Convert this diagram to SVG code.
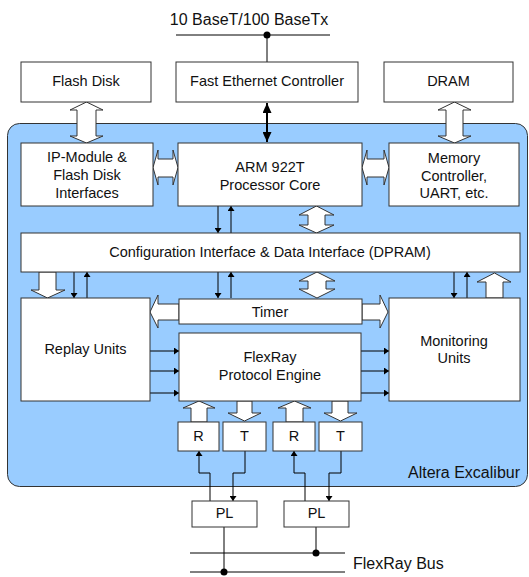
<svg xmlns="http://www.w3.org/2000/svg" width="529" height="577" viewBox="0 0 529 577">
<style>
.box{fill:#fff;stroke:#333;stroke-width:1}
.blk{fill:#fff;stroke:#333;stroke-width:1;stroke-linejoin:miter}
.ln{fill:none;stroke:#000;stroke-width:1}
.t{font-family:"Liberation Sans",Arial,sans-serif;font-size:14.5px;fill:#111;text-anchor:middle}
.tl{font-family:"Liberation Sans",Arial,sans-serif;font-size:16px;fill:#111}
</style>
<defs>
<marker id="ah" viewBox="0 0 10 10" refX="10" refY="5" markerWidth="5" markerHeight="7" markerUnits="userSpaceOnUse" orient="auto-start-reverse" preserveAspectRatio="none">
<path d="M0,0 L10,5 L0,10 z" fill="#000"/>
</marker>
<marker id="ahb" viewBox="0 0 10 10" refX="10" refY="5" markerWidth="10" markerHeight="9" markerUnits="userSpaceOnUse" orient="auto-start-reverse" preserveAspectRatio="none">
<path d="M0,0 L10,5 L0,10 z" fill="#000"/>
</marker>
</defs>
<rect id="excalibur" x="7.5" y="123.5" width="520" height="363" rx="12" ry="12" fill="#99ccff" stroke="#333" stroke-width="1"/>
<text class="tl" x="520" y="478" text-anchor="end">Altera Excalibur</text>

<g id="connectors">
<line class="ln" x1="176" y1="35" x2="330" y2="35"/>
<circle cx="267" cy="35" r="3.5" fill="#000"/>
<line class="ln" x1="267" y1="35" x2="267" y2="62"/>
<line x1="267" y1="103" x2="267" y2="142" stroke="#000" stroke-width="2" marker-start="url(#ahb)" marker-end="url(#ahb)"/>
<polygon class="blk" points="86.5,102 103,110 96,110 96,136 103,136 86.5,143 70,136 77,136 77,110 70,110"/>
<polygon class="blk" points="454.5,102 471,110 463,110 463,136 471,136 454.5,143 438,136 446,136 446,110 438,110"/>
<polygon class="blk" points="316.5,206 334,215 325,215 325,225 334,225 316.5,233 299,225 308,225 308,215 299,215"/>
<polygon class="blk" points="317,272 335,281 326,281 326,289 335,289 317,298 299,289 308,289 308,281 299,281"/>
<polygon class="blk" points="153,167.5 158,150 158,159 173,159 173,150 178,167.5 173,185 173,177 158,177 158,185"/>
<polygon class="blk" points="362,167.5 367,150 367,159 384,159 384,150 389,167.5 384,185 384,177 367,177 367,185"/>
<polygon class="blk" points="39,272 56,272 56,290 65,290 47.5,298 31,290 39,290"/>
<polygon class="blk" points="486,298 503,298 503,282 511,282 494.5,273 477,282 486,282"/>
<polygon class="blk" points="179,304 158,304 158,295 150,312 158,328 158,320 179,320"/>
<polygon class="blk" points="362,304 380,304 380,295 388,312 380,328 380,320 362,320"/>
<polygon class="blk" points="191,422 207,422 207,408 215,408 199,401 183,408 191,408"/>
<polygon class="blk" points="237,401 252,401 252,413 261,413 244.5,421 228,413 237,413"/>
<polygon class="blk" points="286,422 303,422 303,408 311,408 294.5,401 278,408 286,408"/>
<polygon class="blk" points="332,401 348,401 348,413 357,413 340.5,421 324,413 332,413"/>
<line class="ln" x1="218" y1="206" x2="218" y2="233" marker-end="url(#ah)"/>
<line class="ln" x1="231" y1="233" x2="231" y2="206" marker-end="url(#ah)"/>
<line class="ln" x1="218" y1="272" x2="218" y2="298" marker-end="url(#ah)"/>
<line class="ln" x1="231" y1="298" x2="231" y2="272" marker-end="url(#ah)"/>
<line class="ln" x1="74" y1="272" x2="74" y2="298" marker-end="url(#ah)"/>
<line class="ln" x1="87" y1="298" x2="87" y2="272" marker-end="url(#ah)"/>
<line class="ln" x1="454" y1="272" x2="454" y2="298" marker-end="url(#ah)"/>
<line class="ln" x1="467" y1="298" x2="467" y2="272" marker-end="url(#ah)"/>
<line class="ln" x1="150" y1="351" x2="179" y2="351" marker-end="url(#ah)"/>
<line class="ln" x1="150" y1="371" x2="179" y2="371" marker-end="url(#ah)"/>
<line class="ln" x1="150" y1="393" x2="179" y2="393" marker-end="url(#ah)"/>
<line class="ln" x1="361" y1="351" x2="389" y2="351" marker-end="url(#ah)"/>
<line class="ln" x1="361" y1="371" x2="389" y2="371" marker-end="url(#ah)"/>
<line class="ln" x1="361" y1="393" x2="389" y2="393" marker-end="url(#ah)"/>
<polyline class="ln" points="210,501 210,473 199,473 199,451" marker-end="url(#ah)"/>
<polyline class="ln" points="245,451 245,473 233,473 233,501" marker-end="url(#ah)"/>
<polyline class="ln" points="305,501 305,473 294,473 294,451" marker-end="url(#ah)"/>
<polyline class="ln" points="341,451 341,473 329,473 329,501" marker-end="url(#ah)"/>
<line class="ln" x1="190" y1="553" x2="345" y2="553"/>
<line class="ln" x1="190" y1="572" x2="345" y2="572"/>
<line class="ln" x1="224" y1="527" x2="224" y2="572"/>
<line class="ln" x1="316" y1="527" x2="316" y2="553"/>
<circle cx="224" cy="572" r="3.5" fill="#000"/>
<circle cx="316" cy="553" r="3.5" fill="#000"/>
</g>
<text class="tl" x="249" y="25" text-anchor="middle">10 BaseT/100 BaseTx</text>
<text class="tl" x="353" y="569">FlexRay Bus</text>

<g id="flashdisk"><rect class="box" x="21" y="62" width="130" height="40"/><text class="t" x="86" y="86">Flash Disk</text></g>
<g id="ethernet"><rect class="box" x="176" y="62" width="182" height="40"/><text class="t" x="267" y="86">Fast Ethernet Controller</text></g>
<g id="dram"><rect class="box" x="384" y="62" width="129" height="40"/><text class="t" x="448.5" y="86">DRAM</text></g>
<g id="ipmodule"><rect class="box" x="21" y="143" width="132" height="63"/><text class="t" x="87" y="162">IP-Module &amp;</text><text class="t" x="87" y="180">Flash Disk</text><text class="t" x="87" y="197.5">Interfaces</text></g>
<g id="arm"><rect class="box" x="178" y="143" width="184" height="63"/><text class="t" x="270" y="172">ARM 922T</text><text class="t" x="270" y="189.5">Processor Core</text></g>
<g id="memory"><rect class="box" x="389" y="143" width="130" height="63"/><text class="t" x="454" y="163">Memory</text><text class="t" x="454" y="180.5">Controller,</text><text class="t" x="454" y="197.5">UART, etc.</text></g>
<g id="config"><rect class="box" x="21" y="233" width="499" height="39"/><text class="t" x="270" y="257">Configuration Interface &amp; Data Interface (DPRAM)</text></g>
<g id="replay"><rect class="box" x="21" y="298" width="129" height="103"/><text class="t" x="85.5" y="354">Replay Units</text></g>
<g id="timer"><rect class="box" x="179" y="299" width="183" height="25"/><text class="t" x="270" y="316.5">Timer</text></g>
<g id="monitoring"><rect class="box" x="389" y="298" width="131" height="103"/><text class="t" x="454" y="346">Monitoring</text><text class="t" x="454" y="363">Units</text></g>
<g id="protocol"><rect class="box" x="179" y="333" width="182" height="68"/><text class="t" x="270" y="362">FlexRay</text><text class="t" x="270" y="379.5">Protocol Engine</text></g>
<g id="r1"><rect class="box" x="178" y="422" width="41" height="29"/><text class="t" x="198.5" y="441">R</text></g>
<g id="t1"><rect class="box" x="223" y="422" width="43" height="29"/><text class="t" x="244.5" y="441">T</text></g>
<g id="r2"><rect class="box" x="273" y="422" width="42" height="29"/><text class="t" x="294" y="441">R</text></g>
<g id="t2"><rect class="box" x="319" y="422" width="43" height="29"/><text class="t" x="340.5" y="441">T</text></g>
<g id="pl1"><rect class="box" x="192" y="501" width="65" height="26"/><text class="t" x="224.5" y="518">PL</text></g>
<g id="pl2"><rect class="box" x="284" y="501" width="65" height="26"/><text class="t" x="316.5" y="518">PL</text></g>
</svg>
